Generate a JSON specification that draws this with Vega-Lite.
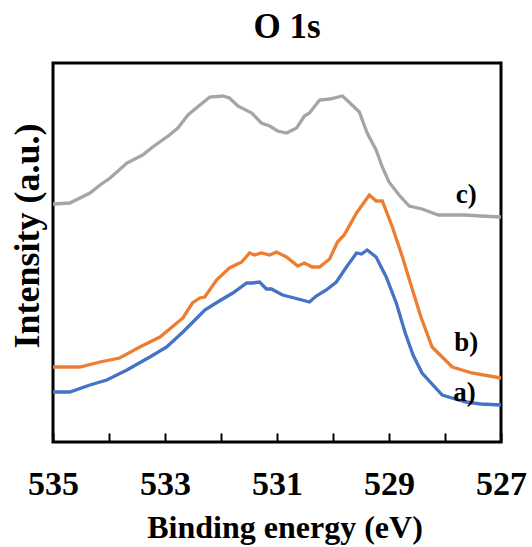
{
  "$schema": "https://vega.github.io/schema/vega-lite/v6.json",
  "width": 448,
  "height": 379,
  "autosize": {"type": "none"},
  "padding": {"left": 53, "top": 63, "right": 31, "bottom": 105},
  "background": "white",
  "config": {
    "view": {"stroke": "black", "strokeWidth": 3},
    "font": "Liberation Serif"
  },
  "title": {
    "text": "O 1s",
    "font": "Liberation Serif",
    "fontSize": 35,
    "fontWeight": "bold",
    "color": "black",
    "dx": 10,
    "offset": 18
  },
  "datasets": {
    "spectra": [
      {"s": "c", "e": 535.00, "i": 239}, {"s": "c", "e": 534.70, "i": 240}, {"s": "c", "e": 534.34, "i": 250}, {"s": "c", "e": 534.16, "i": 258},
      {"s": "c", "e": 533.98, "i": 265}, {"s": "c", "e": 533.68, "i": 280}, {"s": "c", "e": 533.40, "i": 288}, {"s": "c", "e": 533.22, "i": 296},
      {"s": "c", "e": 532.92, "i": 308}, {"s": "c", "e": 532.77, "i": 315}, {"s": "c", "e": 532.59, "i": 328}, {"s": "c", "e": 532.42, "i": 336},
      {"s": "c", "e": 532.20, "i": 346}, {"s": "c", "e": 531.97, "i": 347}, {"s": "c", "e": 531.85, "i": 345}, {"s": "c", "e": 531.70, "i": 337},
      {"s": "c", "e": 531.45, "i": 330}, {"s": "c", "e": 531.28, "i": 320}, {"s": "c", "e": 531.13, "i": 317}, {"s": "c", "e": 530.99, "i": 312},
      {"s": "c", "e": 530.83, "i": 310}, {"s": "c", "e": 530.65, "i": 315}, {"s": "c", "e": 530.51, "i": 327}, {"s": "c", "e": 530.42, "i": 330},
      {"s": "c", "e": 530.24, "i": 343}, {"s": "c", "e": 530.06, "i": 344}, {"s": "c", "e": 529.83, "i": 347}, {"s": "c", "e": 529.66, "i": 338},
      {"s": "c", "e": 529.53, "i": 331}, {"s": "c", "e": 529.39, "i": 310}, {"s": "c", "e": 529.23, "i": 293}, {"s": "c", "e": 529.12, "i": 276},
      {"s": "c", "e": 529.00, "i": 261}, {"s": "c", "e": 528.82, "i": 248}, {"s": "c", "e": 528.64, "i": 237}, {"s": "c", "e": 528.41, "i": 234},
      {"s": "c", "e": 528.12, "i": 228}, {"s": "c", "e": 527.64, "i": 228}, {"s": "c", "e": 527.36, "i": 227}, {"s": "c", "e": 527.00, "i": 226},

      {"s": "b", "e": 535.00, "i": 76}, {"s": "b", "e": 534.52, "i": 76}, {"s": "b", "e": 534.16, "i": 81}, {"s": "b", "e": 533.81, "i": 85},
      {"s": "b", "e": 533.45, "i": 96}, {"s": "b", "e": 533.09, "i": 106}, {"s": "b", "e": 532.68, "i": 125}, {"s": "b", "e": 532.51, "i": 140},
      {"s": "b", "e": 532.38, "i": 145}, {"s": "b", "e": 532.29, "i": 146}, {"s": "b", "e": 532.08, "i": 163}, {"s": "b", "e": 531.85, "i": 175},
      {"s": "b", "e": 531.63, "i": 181}, {"s": "b", "e": 531.49, "i": 190}, {"s": "b", "e": 531.40, "i": 188}, {"s": "b", "e": 531.28, "i": 190},
      {"s": "b", "e": 531.13, "i": 188}, {"s": "b", "e": 531.01, "i": 191}, {"s": "b", "e": 530.83, "i": 186}, {"s": "b", "e": 530.63, "i": 177},
      {"s": "b", "e": 530.51, "i": 180}, {"s": "b", "e": 530.37, "i": 176}, {"s": "b", "e": 530.24, "i": 176}, {"s": "b", "e": 530.06, "i": 184},
      {"s": "b", "e": 529.92, "i": 201}, {"s": "b", "e": 529.80, "i": 208}, {"s": "b", "e": 529.58, "i": 230}, {"s": "b", "e": 529.35, "i": 248},
      {"s": "b", "e": 529.23, "i": 242}, {"s": "b", "e": 529.12, "i": 242}, {"s": "b", "e": 528.94, "i": 216}, {"s": "b", "e": 528.76, "i": 186},
      {"s": "b", "e": 528.58, "i": 153}, {"s": "b", "e": 528.43, "i": 126}, {"s": "b", "e": 528.23, "i": 96}, {"s": "b", "e": 527.87, "i": 76},
      {"s": "b", "e": 527.52, "i": 70}, {"s": "b", "e": 527.00, "i": 65},

      {"s": "a", "e": 535.00, "i": 51}, {"s": "a", "e": 534.70, "i": 51}, {"s": "a", "e": 534.34, "i": 58}, {"s": "a", "e": 534.04, "i": 63},
      {"s": "a", "e": 533.68, "i": 73}, {"s": "a", "e": 533.27, "i": 86}, {"s": "a", "e": 532.97, "i": 96}, {"s": "a", "e": 532.68, "i": 111},
      {"s": "a", "e": 532.43, "i": 125}, {"s": "a", "e": 532.29, "i": 133}, {"s": "a", "e": 532.06, "i": 141}, {"s": "a", "e": 531.79, "i": 150},
      {"s": "a", "e": 531.54, "i": 160}, {"s": "a", "e": 531.44, "i": 160}, {"s": "a", "e": 531.31, "i": 161}, {"s": "a", "e": 531.19, "i": 154},
      {"s": "a", "e": 531.10, "i": 154}, {"s": "a", "e": 530.90, "i": 148}, {"s": "a", "e": 530.69, "i": 145}, {"s": "a", "e": 530.42, "i": 141},
      {"s": "a", "e": 530.30, "i": 147}, {"s": "a", "e": 530.12, "i": 153}, {"s": "a", "e": 529.94, "i": 161}, {"s": "a", "e": 529.76, "i": 176},
      {"s": "a", "e": 529.58, "i": 190}, {"s": "a", "e": 529.49, "i": 189}, {"s": "a", "e": 529.39, "i": 193}, {"s": "a", "e": 529.23, "i": 186},
      {"s": "a", "e": 529.05, "i": 166}, {"s": "a", "e": 528.87, "i": 140}, {"s": "a", "e": 528.71, "i": 110}, {"s": "a", "e": 528.57, "i": 88},
      {"s": "a", "e": 528.41, "i": 70}, {"s": "a", "e": 528.05, "i": 48}, {"s": "a", "e": 527.64, "i": 41}, {"s": "a", "e": 527.36, "i": 39},
      {"s": "a", "e": 527.00, "i": 38}
    ],
    "labels": [
      {"label": "c)", "e": 527.62, "i": 248},
      {"label": "b)", "e": 527.62, "i": 100},
      {"label": "a)", "e": 527.65, "i": 50}
    ]
  },
  "layer": [
    {
      "data": {"name": "spectra"},
      "mark": {"type": "line", "strokeWidth": 3.3, "clip": true},
      "encoding": {
        "x": {
          "field": "e",
          "type": "quantitative",
          "scale": {"domain": [527, 535], "reverse": true, "nice": false, "zero": false},
          "axis": {
            "values": [535, 534.5, 534, 533.5, 533, 532.5, 532, 531.5, 531, 530.5, 530, 529.5, 529, 528.5, 528, 527.5, 527],
            "labelExpr": "datum.value % 2 == 1 ? format(datum.value, 'd') : ''",
            "labelOverlap": false,
            "labelFlush": false,
            "grid": false,
            "domain": false,
            "offset": -9,
            "ticks": true,
            "tickSize": 9,
            "tickWidth": 2,
            "tickColor": "black",
            "labelFont": "Liberation Serif",
            "labelFontWeight": "bold",
            "labelFontSize": 34,
            "labelColor": "black",
            "labelBaseline": "alphabetic",
            "labelPadding": 52,
            "title": "Binding energy (eV)",
            "titleFont": "Liberation Serif",
            "titleFontWeight": "bold",
            "titleFontSize": 32,
            "titleColor": "black",
            "titleX": 231.5,
            "titleY": 104,
            "titleAlign": "center",
            "titleAnchor": null,
            "titleBaseline": "alphabetic"
          }
        },
        "y": {
          "field": "i",
          "type": "quantitative",
          "scale": {"domain": [1, 380], "nice": false, "zero": false},
          "axis": {
            "ticks": false,
            "labels": false,
            "domain": false,
            "grid": false,
            "title": "Intensity (a.u.)",
            "titleFont": "Liberation Serif",
            "titleFontWeight": "bold",
            "titleFontSize": 36,
            "titleColor": "black",
            "titleAngle": -90,
            "titleX": -15,
            "titleY": 172.5,
            "titleAlign": "center",
            "titleBaseline": "alphabetic"
          }
        },
        "color": {
          "field": "s",
          "type": "nominal",
          "scale": {"domain": ["a", "b", "c"], "range": ["#4472C4", "#ED7D31", "#A5A5A5"]},
          "legend": null
        }
      }
    },
    {
      "data": {"name": "labels"},
      "mark": {"type": "text", "font": "Liberation Serif", "fontWeight": "bold", "fontSize": 27, "color": "black", "baseline": "middle", "align": "center"},
      "encoding": {
        "x": {"field": "e", "type": "quantitative"},
        "y": {"field": "i", "type": "quantitative"},
        "text": {"field": "label"}
      }
    }
  ]
}
